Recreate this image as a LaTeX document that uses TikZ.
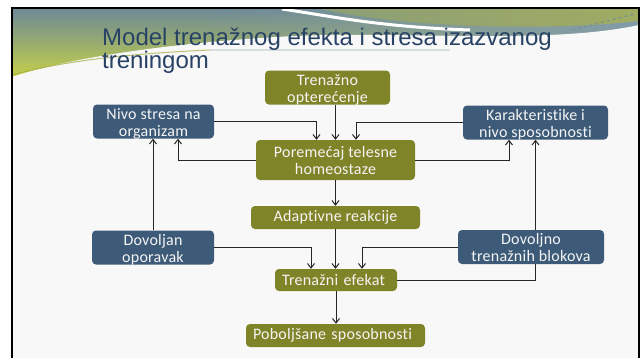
\documentclass[tikz,border=0pt]{standalone}
\usepackage{fontspec}
\setmainfont{Liberation Sans}
\newfontfamily\boxfont[LetterSpace=1.5, Ligatures=NoCommon]{Carlito}
\usepackage{tikz}
\usetikzlibrary{arrows.meta, calc, fadings}

\definecolor{olivebg}{RGB}{128,132,40}
\definecolor{steelbg}{RGB}{61,91,120}
\definecolor{titleblue}{RGB}{40,66,102}
\definecolor{slidebg}{RGB}{248,248,248}
\definecolor{headgray}{RGB}{110,138,150}
\definecolor{headblue}{RGB}{130,156,168}
\definecolor{headyellow}{RGB}{200,210,70}
\definecolor{headolive}{RGB}{160,172,98}

% two text lines set a little low in their box
\newcommand{\boxtext}[1]{\raisebox{-3pt}[\height][\depth]{\begin{tabular}{@{}c@{}}#1\end{tabular}}}

\tikzset{
	card/.style={rounded corners=4pt, inner sep=0pt, text=white!96!black, align=center, font=\boxfont\fontsize{16}{17}\selectfont},
	olivebox/.style={card, fill=olivebg},
	bluebox/.style={card, fill=steelbg},
	leftcard/.style={align=left, inner xsep=7pt},
	flow/.style={-{Straight Barb[length=4.5pt,width=7pt]}, line width=1pt, color=black!85}
}

\begin{document}
\begin{tikzpicture}[x=1pt,y=-1pt]
		% slide: frame, header band, title
		\useasboundingbox (0,0) rectangle (642,357);
		\clip (0,0) rectangle (642,357);
		\fill[white] (0,0) rectangle (642,357);
		\fill[slidebg] (12,8) rectangle (639,370);
		\shade[top color=headgray, bottom color=headyellow] (12,9) rectangle (639,80);
		\fill[headblue, path fading=west] (200,9) rectangle (639,48);
		\shade[left color=headolive!60!headgray, right color=headolive] (320,9) -- (639,9) -- (639,21) .. controls (560,30) and (420,30) .. (320,9) -- cycle;
		\draw[white, line width=3pt] (282,9) .. controls (330,16) and (380,27) .. (470,30);
		\fill[slidebg] (12,77) .. controls (90,50) and (250,36) .. (330,35) .. controls (450,34) and (560,42) .. (639,25) -- (639,90) -- (12,90) -- cycle;
		\draw[headyellow!80!black, line width=1pt, opacity=.7] (12,75) .. controls (60,62) and (120,54) .. (210,50);
		\draw[headgray!50, line width=1.2pt, opacity=.5] (210,50) -- (450,50);
		\draw[headgray, line width=1.2pt, dashed, opacity=.7] (572,30) -- (634,14);
		\draw[black, line width=2.5pt] (12,8) rectangle (639,370);
		\node[anchor=north west, align=left, text=titleblue, font=\fontsize{24}{22.5}\selectfont, inner sep=0pt] (title) at (102,28) {Model trenažnog efekta i stresa izazvanog\\treningom};

		% boxes
		\node[olivebox, minimum width=125pt, minimum height=33pt] (load) at (327.5,87.5) {\boxtext{Trenažno\\opterećenje}};
		\node[bluebox, minimum width=121pt, minimum height=33pt] (stress) at (153.5,121.5) {\boxtext{Nivo stresa na\\organizam}};
		\node[bluebox, minimum width=145pt, minimum height=33pt] (ability) at (535.5,122.5) {\boxtext{Karakteristike i\\nivo sposobnosti}};
		\node[olivebox, minimum width=159pt, minimum height=40pt] (perturb) at (335.5,160) {Poremećaj telesne\\homeostaze};
		\node[olivebox, minimum width=169pt, minimum height=23pt] (adapt) at (335.5,217.5) {Adaptivne reakcije};
		\node[bluebox, minimum width=122pt, minimum height=33pt] (rest) at (153,247.5) {\boxtext{Dovoljan\\oporavak}};
		\node[olivebox, leftcard, text width=108pt, minimum height=22pt] (effect) at (336,280) {Trenažni efekat};
		\node[olivebox, leftcard, text width=165pt, minimum height=23pt] (improve) at (335.5,335.5) {Poboljšane sposobnosti};

		% connectors
		\draw[flow] (load.south -| perturb.north) -- (perturb.north);
		\draw[flow] (stress.east) -| ([xshift=-19pt]perturb.north);
		\draw[flow] (ability.west) -| ([xshift=20.5pt]perturb.north);
		\draw[flow] (perturb.west) -| ([xshift=24.5pt]stress.south);
		\draw[flow] (perturb.east) -| ([xshift=-26.5pt]ability.south);
		\draw[flow] (rest.north) -- (rest.north |- stress.south);
		\draw[flow] (perturb.south) -- (adapt.north);
		\draw[flow] (adapt.south) -- (adapt.south |- effect.north);
		\draw[flow] (rest.east) -| ([xshift=-25pt]effect.north);
		\draw[flow] (effect.east) -| (ability.south);
		\draw[flow] (effect.south) -- (effect.south |- improve.north);

		% drawn last, it hides the feedback line behind it
		\node[bluebox, minimum width=146pt, minimum height=30pt] (blocks) at (531,247) {\boxtext{Dovoljno\\trenažnih blokova}};
		\draw[flow] (blocks.west) -| ([xshift=26pt]effect.north);
	\end{tikzpicture}
\end{document}
